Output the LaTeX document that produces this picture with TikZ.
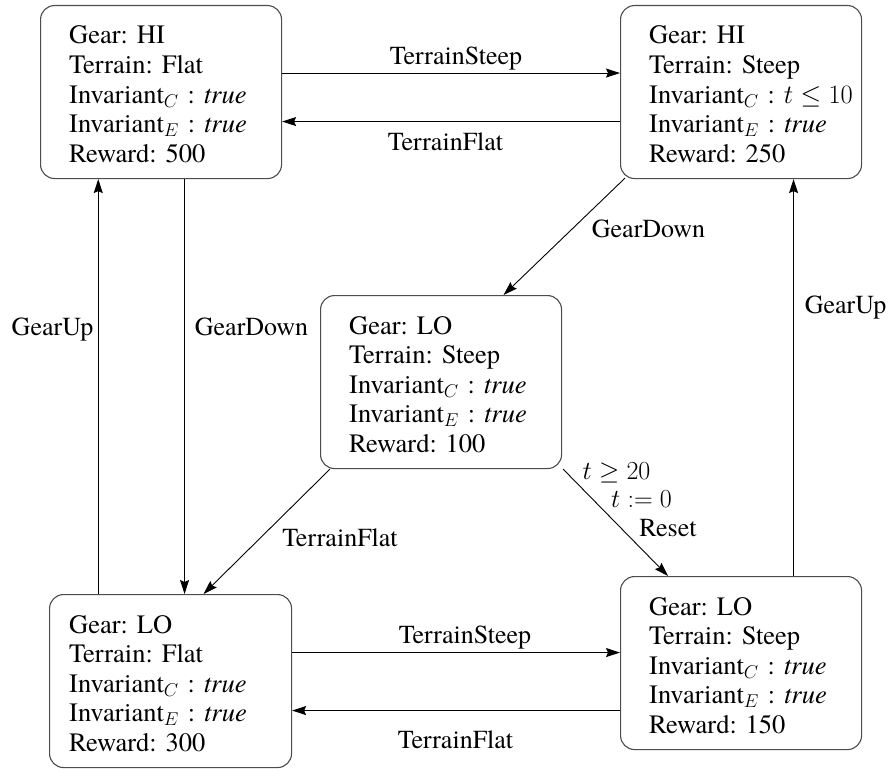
\RequirePackage{fix-cm}
\documentclass[tikz,border=0pt]{standalone}
\usepackage[no-math]{fontspec}
\setmainfont{texgyretermes}[Extension=.otf, UprightFont=*-regular, ItalicFont=*-italic, BoldFont=*-bold, BoldItalicFont=*-bolditalic]
\usetikzlibrary{arrows.meta}
\frenchspacing
\begin{document}
\begin{tikzpicture}[x=1pt,y=-1pt,
  state/.style={draw=black!70, line width=1.1pt, rounded corners=14pt,
    minimum width=241pt, minimum height=173pt, inner sep=0pt, anchor=north west},
  stxt/.style={anchor=base west, inner sep=0pt, text width=220pt, align=left,
    font=\fontsize{26.5}{29.6}\selectfont},
  lab/.style={anchor=base, inner sep=0pt, font=\fontsize{26}{29}\selectfont},
  arr/.style={line width=0.9pt, -{Stealth[length=14pt,width=9pt,inset=2pt]}}
]
\useasboundingbox (0,0) rectangle (891,768);

% states
\node[state] (A) at (40,5) {};
\node[state] (B) at (620,5) {};
\node[state] (C) at (320,295) {};
\node[state, minimum width=242pt] (D) at (49,594) {};
\node[state] (E) at (620,576) {};

% state texts
\node[stxt] (At) at ([xshift=29pt,yshift=-39pt]A.north west)
  {Gear: HI\\Terrain: Flat\\Invariant$_C$ : \textit{true}\\Invariant$_E$ : \textit{true}\\Reward: 500};
\node[stxt] (Bt) at ([xshift=29pt,yshift=-39pt]B.north west)
  {Gear: HI\\Terrain: Steep\\Invariant$_C$ : $t \leq 10$\\Invariant$_E$ : \textit{true}\\Reward: 250};
\node[stxt] (Ct) at ([xshift=29pt,yshift=-39pt]C.north west)
  {Gear: LO\\Terrain: Steep\\Invariant$_C$ : \textit{true}\\Invariant$_E$ : \textit{true}\\Reward: 100};
\node[stxt] (Dt) at ([xshift=20pt,yshift=-39pt]D.north west)
  {Gear: LO\\Terrain: Flat\\Invariant$_C$ : \textit{true}\\Invariant$_E$ : \textit{true}\\Reward: 300};
\node[stxt] (Et) at ([xshift=29pt,yshift=-39pt]E.north west)
  {Gear: LO\\Terrain: Steep\\Invariant$_C$ : \textit{true}\\Invariant$_E$ : \textit{true}\\Reward: 150};

% transitions
\draw[arr] ([yshift=19pt]A.east) -- ([yshift=19pt]A.east -| B.west);
\draw[arr] ([yshift=-29.5pt]B.west) -- ([yshift=-29.5pt]B.west -| A.east);
\draw[arr] ([xshift=5pt,yshift=1pt]B.south west) -- ([xshift=62.5pt]C.north);
\draw[arr] ([xshift=52.5pt]E.north) -- ([xshift=52.5pt]E.north |- B.south);
\draw[arr] ([xshift=1pt]C.south east) -- ([xshift=48pt]E.north west);
\draw[arr] ([xshift=10pt]C.south west) -- ([xshift=33pt]D.north);
\draw[arr] ([xshift=-72.3pt]D.north) -- ([xshift=-72.3pt]D.north |- A.south);
\draw[arr] ([xshift=23.5pt]A.south) -- ([xshift=23.5pt]A.south |- D.north);
\draw[arr] ([yshift=28.5pt]D.east) -- ([yshift=28.5pt]D.east -| E.west);
\draw[arr] ([yshift=-47.5pt]E.west) -- ([yshift=-47.5pt]E.west -| D.east);

% labels
\node[lab] (l1) at (456,64) {TerrainSteep};
\node[lab] (l2) at (445.5,150) {TerrainFlat};
\node[lab] (l3) at (648.5,237) {GearDown};
\node[lab] (l4) at (845.5,313) {GearUp};
\node[lab] (l5) at (52.5,335) {GearUp};
\node[lab] (l6) at (251.5,335) {GearDown};
\node[lab] (l7) at (340,546) {TerrainFlat};
\node[lab] (l8) at (616.5,479) {$t \geq 20$};
\node[lab] (l9) at (641.5,507.5) {$t := 0$};
\node[lab] (l10) at (668,536.5) {Reset};
\node[lab] (l11) at (465,643) {TerrainSteep};
\node[lab] (l12) at (455.5,748) {TerrainFlat};
\end{tikzpicture}
\end{document}
